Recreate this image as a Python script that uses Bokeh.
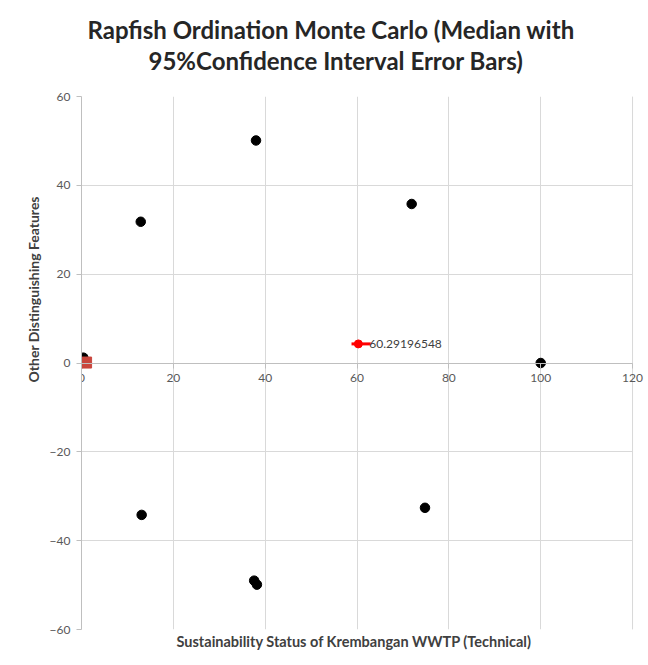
from bokeh.plotting import figure
from bokeh.models import Title, Range1d, FixedTicker, BoxAnnotation, Span
from bokeh.embed import file_html
from bokeh.resources import INLINE
from bokeh.core.properties import value

# ---- data ----
title_lines = ["Rapfish Ordination Monte Carlo (Median with",
               "95%Confidence Interval Error Bars)"]
x_label = "Sustainability Status of Krembangan WWTP (Technical)"
y_label = "Other Distinguishing Features"
x_ticks = [0, 20, 40, 60, 80, 100, 120]
y_ticks = [-60, -40, -20, 0, 20, 40, 60]

ref_x = [38.0, 12.9, 71.9, 100.0, 13.1, 74.8, 37.6, 38.2, -0.6, 0.4]
ref_y = [50.1, 31.8, 35.8, 0.0, -34.2, -32.6, -49.0, -49.9, -0.4, 1.2]

anchor_x = [1.0]
anchor_y = [0.1]

median_x = [60.29196548]
median_y = [4.3]
ci_low = [58.8]
ci_high = [63.0]
median_label = ["60.29196548"]

FONT = "Lato"
GRID = "#d9d9d9"
AXIS = "#bfbfbf"
TICK_TXT = "#595959"
X_MAX = x_ticks[-1]

p = figure(width=644, height=656, output_backend="svg", toolbar_location=None,
           x_range=Range1d(0, 122.6), y_range=Range1d(-60, 60),
           min_border_left=81, min_border_right=0, min_border_top=96, min_border_bottom=27)
p.title = None
p.outline_line_color = None
p.background_fill_color = "white"
p.border_fill_color = "white"

# axes
p.xaxis.fixed_location = 0
p.xaxis.bounds = (0, X_MAX)
p.xaxis.ticker = FixedTicker(ticks=x_ticks)
p.yaxis.ticker = FixedTicker(ticks=y_ticks)
for ax in [p.xaxis, p.yaxis]:
    ax.axis_line_color = AXIS
    ax.major_tick_line_color = AXIS
    ax.major_tick_out = 5
    ax.major_tick_in = 0
    ax.minor_tick_line_color = None
    ax.major_label_text_font = FONT
    ax.major_label_text_font_size = "12px"
    ax.major_label_text_color = TICK_TXT
p.xaxis.major_label_standoff = 6
p.yaxis.major_label_standoff = 6

# titles (added inner-first): spacer, line 2, line 1
p.add_layout(Title(text=" ", text_font=FONT, text_font_size="12px", standoff=5), "above")
p.add_layout(Title(text=title_lines[1], align="left", offset=67, text_font=FONT,
                   text_font_size="24px", text_font_style="bold", text_color="#262626",
                   standoff=0), "above")
p.add_layout(Title(text=title_lines[0], align="left", offset=6, text_font=FONT,
                   text_font_size="24px", text_font_style="bold", text_color="#262626",
                   standoff=0), "above")

# axis titles
p.add_layout(Title(text=x_label, align="left", offset=95, text_font=FONT,
                   text_font_size="14.5px", text_font_style="bold", text_color="#404040",
                   standoff=3), "below")
p.add_layout(Title(text=y_label, align="left", offset=247, text_font=FONT,
                   text_font_size="14px", text_font_style="bold", text_color="#404040",
                   standoff=10), "left")

p.xgrid.ticker = FixedTicker(ticks=x_ticks)
p.ygrid.ticker = FixedTicker(ticks=y_ticks)
p.grid.grid_line_color = GRID
p.grid.grid_line_width = 1

# blank margin right of the plot area (keeps the 120 tick label visible)
p.add_layout(BoxAnnotation(left=X_MAX, fill_color="white", fill_alpha=1.0,
                           line_color=None, level="underlay"))
p.add_layout(Span(location=X_MAX, dimension="height", line_color=GRID, line_width=1,
                  level="underlay"))

# marks
p.scatter(ref_x, ref_y, size=9.5, color="black")
p.scatter(anchor_x, anchor_y, marker="square", size=11, color="#c9463d")
p.segment(x0=ci_low, y0=median_y, x1=ci_high, y1=median_y, line_color="#ff0000", line_width=3)
p.scatter(median_x, median_y, size=8, color="#ff0000")
p.text(x=median_x, y=median_y, text=median_label, x_offset=11,
       text_font=value(FONT), text_font_size="12px", text_color="#404040",
       text_baseline="middle", text_align="left")

open("out.html", "w").write(file_html(p, INLINE))
